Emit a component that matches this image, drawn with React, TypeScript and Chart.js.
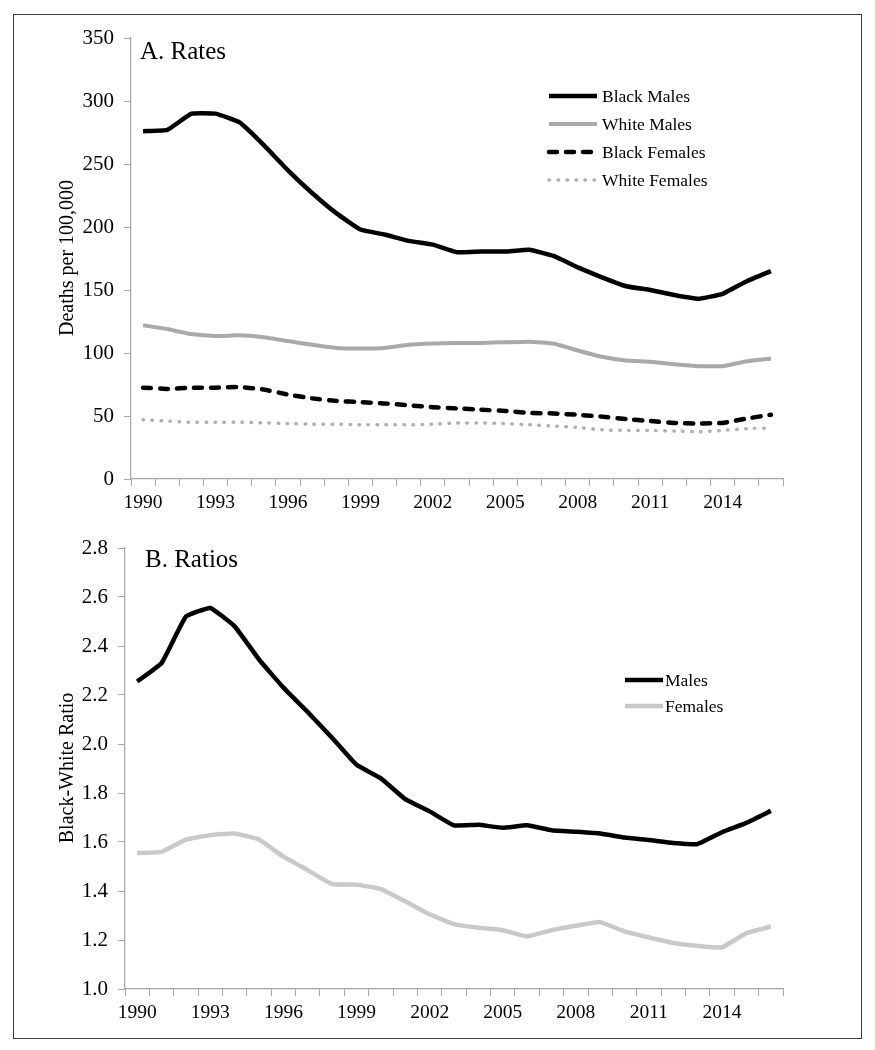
import React, { useEffect, useRef } from 'react';
import { Chart, registerables } from 'chart.js';

Chart.register(...registerables);

const years = ['1990', '1991', '1992', '1993', '1994', '1995', '1996', '1997', '1998', '1999', '2000', '2001', '2002', '2003', '2004', '2005', '2006', '2007', '2008', '2009', '2010', '2011', '2012', '2013', '2014', '2015', '2016'];
const shownYears = ['1990', '1993', '1996', '1999', '2002', '2005', '2008', '2011', '2014'];

const blackMales = [276, 277, 290, 290, 283, 265, 245, 227, 211, 198, 194, 189, 186, 180, 180.5, 180.5, 182, 177, 168, 160, 153, 150, 146, 143, 147, 157, 165];
const whiteMales = [122, 119, 115, 113.5, 114, 112.5, 109.5, 106.5, 104, 103.5, 104, 106.5, 107.5, 108, 108, 108.5, 109, 107.5, 102, 97, 94, 93, 91, 89.5, 89.5, 93.5, 95.5];
const blackFemales = [72.5, 71.5, 72.5, 72.5, 73, 71, 67, 64, 62, 61, 60, 58.5, 57, 56, 55, 54, 52.5, 52, 51, 49.5, 47.5, 46, 44.5, 44, 44.5, 48, 51];
const whiteFemales = [47, 46, 45, 45, 45, 44.5, 44, 43.5, 43.5, 43, 43, 43, 43.5, 44.5, 44.5, 44, 43, 42, 41, 39, 38.5, 38.5, 38, 37.5, 38.5, 40, 40.5];

const maleRatio = [2.255, 2.33, 2.52, 2.555, 2.48, 2.345, 2.23, 2.13, 2.025, 1.915, 1.86, 1.775, 1.725, 1.668, 1.67, 1.658, 1.668, 1.648, 1.642, 1.635, 1.618, 1.608, 1.596, 1.592, 1.64, 1.678, 1.727];
const femaleRatio = [1.555, 1.56, 1.61, 1.628, 1.635, 1.61, 1.54, 1.485, 1.428, 1.426, 1.408, 1.358, 1.305, 1.265, 1.25, 1.24, 1.215, 1.24, 1.258, 1.273, 1.235, 1.21, 1.188, 1.176, 1.17, 1.228, 1.255];

const rateTicks = [0, 50, 100, 150, 200, 250, 300, 350];
const ratioTicks = [1.0, 1.2, 1.4, 1.6, 1.8, 2.0, 2.2, 2.4, 2.6, 2.8];

const SERIF = '"Liberation Serif", "Times New Roman", serif';
const AXIS = '#a6a6a6';
const TENSION = 0.1;

type Decor = {
  title: string;
  titleX: number;
  titleY: number;
  yTitle: string;
  yTitleX: number;
  yTitleY: number;
  legX0: number;
  legX1: number;
  legTextX: number;
  legY: number;
  legGap: number;
};

const makeDecor = (o: Decor) => ({
  id: 'decor',
  afterDraw(chart: any) {
    const ctx = chart.ctx as CanvasRenderingContext2D;
    ctx.save();
    ctx.fillStyle = '#000';
    ctx.font = `25px ${SERIF}`;
    ctx.textAlign = 'left';
    ctx.textBaseline = 'alphabetic';
    ctx.fillText(o.title, o.titleX, o.titleY);
    ctx.restore();

    ctx.save();
    ctx.translate(o.yTitleX, o.yTitleY);
    ctx.rotate(-Math.PI / 2);
    ctx.fillStyle = '#000';
    ctx.font = `20px ${SERIF}`;
    ctx.textAlign = 'center';
    ctx.textBaseline = 'middle';
    ctx.fillText(o.yTitle, 0, 0);
    ctx.restore();

    chart.data.datasets.forEach((ds: any, i: number) => {
      const y = o.legY + i * o.legGap;
      ctx.save();
      ctx.strokeStyle = ds.borderColor;
      ctx.lineWidth = ds.borderWidth;
      ctx.lineCap = ds.borderCapStyle || 'butt';
      ctx.setLineDash(ds.borderDash || []);
      ctx.beginPath();
      ctx.moveTo(o.legX0, y);
      ctx.lineTo(o.legX1, y);
      ctx.stroke();
      ctx.setLineDash([]);
      ctx.fillStyle = '#000';
      ctx.font = `17.5px ${SERIF}`;
      ctx.textAlign = 'left';
      ctx.textBaseline = 'middle';
      ctx.fillText(ds.label, o.legTextX, y + 1);
      ctx.restore();
    });
  },
});

const xScale = (height: number) => ({
  type: 'category' as const,
  offset: true,
  grid: {
    offset: true,
    drawOnChartArea: false,
    drawTicks: true,
    tickLength: 7,
    color: AXIS,
  },
  border: { color: AXIS, width: 1.2 },
  ticks: {
    autoSkip: false,
    maxRotation: 0,
    minRotation: 0,
    padding: 5,
    color: '#000',
    font: { family: SERIF, size: 19.5 },
    callback: (_v: any, i: number) => (shownYears.includes(years[i]) ? years[i] : ''),
  },
  afterFit: (s: any) => {
    s.height = height;
  },
});

const yScale = (width: number, min: number, max: number, tickVals: number[], digits: number) => ({
  type: 'linear' as const,
  min,
  max,
  grid: {
    drawOnChartArea: false,
    drawTicks: true,
    tickLength: 7,
    color: AXIS,
  },
  border: { color: AXIS, width: 1.2 },
  ticks: {
    padding: 10,
    color: '#000',
    font: { family: SERIF, size: 21 },
    callback: (v: any) => Number(v).toFixed(digits),
  },
  afterBuildTicks: (s: any) => {
    s.ticks = tickVals.map((v) => ({ value: v }));
  },
  afterFit: (s: any) => {
    s.width = width;
  },
});

function RatesChart() {
  const ref = useRef<HTMLCanvasElement | null>(null);
  useEffect(() => {
    if (!ref.current) return;
    const chart = new Chart(ref.current, {
      type: 'line',
      data: {
        labels: years,
        datasets: [
          { label: 'Black Males', data: blackMales, borderColor: '#000000', borderWidth: 4.5, tension: TENSION, pointRadius: 0, borderCapStyle: 'butt', borderJoinStyle: 'round' },
          { label: 'White Males', data: whiteMales, borderColor: '#a9a9a9', borderWidth: 4, tension: TENSION, pointRadius: 0, borderCapStyle: 'butt', borderJoinStyle: 'round' },
          { label: 'Black Females', data: blackFemales, borderColor: '#000000', borderWidth: 4.5, tension: TENSION, pointRadius: 0, borderDash: [8, 9], borderCapStyle: 'round', borderJoinStyle: 'round' },
          { label: 'White Females', data: whiteFemales, borderColor: '#b0b0b0', borderWidth: 3.5, tension: TENSION, pointRadius: 0, borderDash: [0.5, 8.5], borderCapStyle: 'round', borderJoinStyle: 'round' },
        ] as any,
      },
      options: {
        animation: false,
        responsive: true,
        maintainAspectRatio: false,
        layout: { padding: { left: 0, right: 78, top: 23, bottom: 0 } },
        plugins: { legend: { display: false }, tooltip: { enabled: false }, title: { display: false } },
        scales: {
          x: xScale(41) as any,
          y: yScale(117, 0, 350, rateTicks, 0) as any,
        },
      },
      plugins: [
        makeDecor({
          title: 'A. Rates',
          titleX: 126,
          titleY: 44,
          yTitle: 'Deaths per 100,000',
          yTitleX: 54,
          yTitleY: 243,
          legX0: 535,
          legX1: 583,
          legTextX: 588,
          legY: 81,
          legGap: 28,
        }),
      ],
    });
    return () => chart.destroy();
  }, []);
  return <canvas ref={ref} />;
}

function RatiosChart() {
  const ref = useRef<HTMLCanvasElement | null>(null);
  useEffect(() => {
    if (!ref.current) return;
    const chart = new Chart(ref.current, {
      type: 'line',
      data: {
        labels: years,
        datasets: [
          { label: 'Males', data: maleRatio, borderColor: '#000000', borderWidth: 4.5, tension: TENSION, pointRadius: 0, borderCapStyle: 'butt', borderJoinStyle: 'round' },
          { label: 'Females', data: femaleRatio, borderColor: '#c9c9c9', borderWidth: 4.5, tension: TENSION, pointRadius: 0, borderCapStyle: 'butt', borderJoinStyle: 'round' },
        ] as any,
      },
      options: {
        animation: false,
        responsive: true,
        maintainAspectRatio: false,
        layout: { padding: { left: 0, right: 78, top: 28, bottom: 0 } },
        plugins: { legend: { display: false }, tooltip: { enabled: false }, title: { display: false } },
        scales: {
          x: xScale(49) as any,
          y: yScale(111, 1.0, 2.8, ratioTicks, 1) as any,
        },
      },
      plugins: [
        makeDecor({
          title: 'B. Ratios',
          titleX: 131,
          titleY: 47,
          yTitle: 'Black-White Ratio',
          yTitleX: 54,
          yTitleY: 248,
          legX0: 611,
          legX1: 649,
          legTextX: 651,
          legY: 160,
          legGap: 26,
        }),
      ],
    });
    return () => chart.destroy();
  }, []);
  return <canvas ref={ref} />;
}

export default function App() {
  return (
    <div
      style={{
        position: 'absolute',
        left: 13,
        top: 14,
        width: 849,
        height: 1025,
        border: '1px solid #3a3a3a',
        boxSizing: 'border-box',
        background: '#fff',
      }}
    >
      <div style={{ position: 'absolute', left: 0, top: 0, width: 847, height: 505 }}>
        <RatesChart />
      </div>
      <div style={{ position: 'absolute', left: 0, top: 505, width: 847, height: 518 }}>
        <RatiosChart />
      </div>
    </div>
  );
}
